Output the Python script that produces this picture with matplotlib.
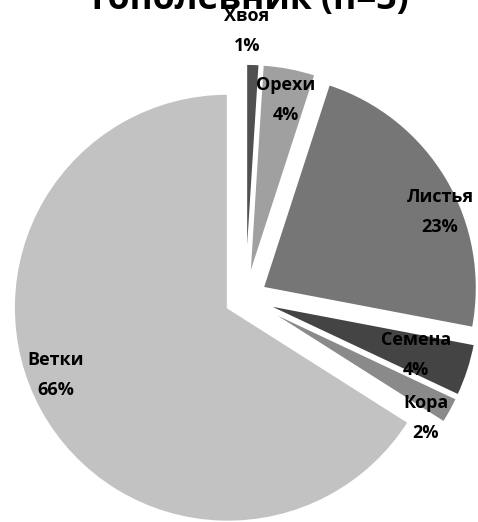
import matplotlib
matplotlib.use("Agg")
import matplotlib.pyplot as plt

plt.rcParams['font.family'] = ['Open Sans', 'DejaVu Sans']

# data
names = ['Хвоя', 'Орехи', 'Листья', 'Семена', 'Кора', 'Ветки']
values = [1, 4, 23, 4, 2, 66]
pct_labels = ['1%', '4%', '23%', '4%', '2%', '66%']
colors = ['#505050', '#a0a0a0', '#767676', '#444444', '#8a8a8a', '#c2c2c2']
title = 'Тополевник (n=3)'

# label block centres in pie units (radius = 1)
label_x = [0.007, 0.189, 0.909, 0.797, 0.843, -0.885]
label_y = [1.248, 0.925, 0.402, -0.266, -0.561, -0.360]

W, H = 478, 522
fig = plt.figure(figsize=(W / 100, H / 100), dpi=100)
ax = fig.add_axes([0, 0, 1, 1])

ax.pie(values, colors=colors, startangle=90, counterclock=False,
       explode=[0.094] * len(values),
       wedgeprops=dict(edgecolor='white', linewidth=1.5))

# pixel geometry: radius 214 px, centre at (245.5, 298) from top-left
s = 214.0
cx, cy = 245.5, 298.0
ax.set_xlim(-cx / s, (W - cx) / s)
ax.set_ylim(-(H - cy) / s, cy / s)
ax.set_aspect('auto')
ax.axis('off')

dy = 15 / s
for n, p, x, y in zip(names, pct_labels, label_x, label_y):
    ax.text(x, y + dy, n, ha='center', va='center', fontsize=13, fontweight='bold')
    ax.text(x, y - dy, p, ha='center', va='center', fontsize=13, fontweight='bold')

# title sits partly above the top edge, as in the original
fig.text(248 / W, 1 - 9 / H, title, ha='center', va='baseline',
         fontsize=25.5, fontweight='bold')

fig.savefig('out.png', dpi=100)
